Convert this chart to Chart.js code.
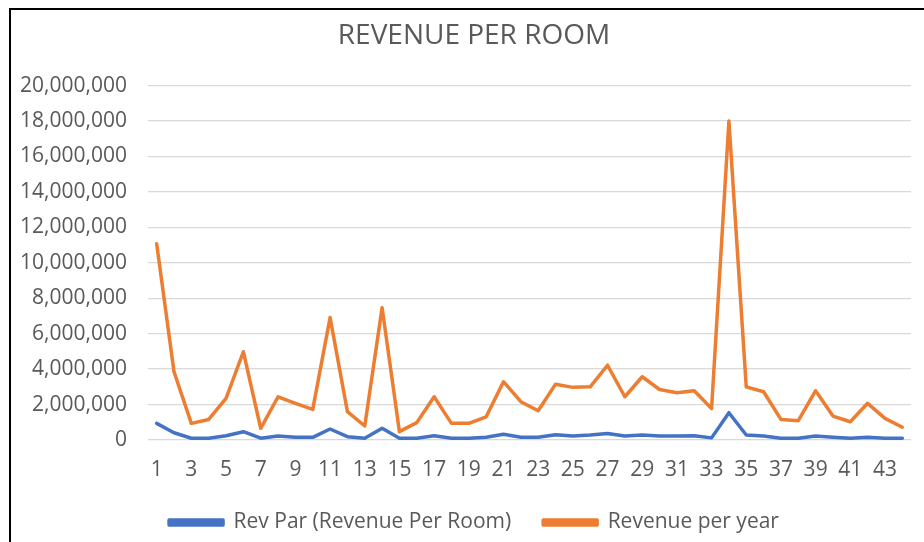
<!DOCTYPE html>
<html>
<head>
<meta charset="utf-8">
<title>Revenue Per Room</title>
<script src="https://cdn.jsdelivr.net/npm/chart.js@4/dist/chart.umd.min.js"></script>
<style>
  html, body { margin: 0; padding: 0; background: #fff; overflow: hidden; width: 924px; height: 542px; }
  .frame { position: absolute; left: 9px; top: 8px; width: 940px; height: 560px; border-top: 2px solid #000; border-left: 2px solid #000; }
  .wrap { position: absolute; left: 11px; top: 10px; width: 924px; height: 532px; }
</style>
</head>
<body>
<div class="frame"></div>
<div class="wrap"><canvas id="revChart"></canvas></div>
<script>
// ============================================================
// DATA
// ============================================================
const categories = ['1','2','3','4','5','6','7','8','9','10','11','12','13','14','15','16','17','18','19','20','21','22',
                    '23','24','25','26','27','28','29','30','31','32','33','34','35','36','37','38','39','40','41','42','43','44'];

const revPar = [940000, 410000, 100000, 100000, 240000, 470000, 100000, 220000, 150000, 150000, 620000, 190000, 100000, 660000,
                100000, 100000, 240000, 100000, 100000, 150000, 320000, 150000, 150000, 300000, 220000, 280000, 370000, 220000,
                280000, 220000, 220000, 240000, 120000, 1540000, 280000, 220000, 100000, 100000, 220000, 150000, 100000, 150000,
                100000, 100000];

const revenuePerYear = [11080000, 3850000, 940000, 1160000, 2350000, 4980000, 660000, 2440000, 2070000, 1730000, 6910000, 1600000,
                        790000, 7470000, 470000, 980000, 2440000, 940000, 940000, 1310000, 3290000, 2160000, 1650000, 3150000,
                        2970000, 3000000, 4220000, 2440000, 3570000, 2850000, 2670000, 2780000, 1780000, 18000000, 3000000,
                        2720000, 1160000, 1090000, 2780000, 1350000, 1030000, 2070000, 1220000, 720000];

const yTicks = [0, 2000000, 4000000, 6000000, 8000000, 10000000, 12000000, 14000000, 16000000, 18000000, 20000000];

// ============================================================
// CHART
// ============================================================
const textColor = '#595959';
const font = { family: "'Open Sans', sans-serif", size: 21 };

function fmt(n) { return Number(n).toLocaleString('en-US'); }

function lineSet(label, data, color) {
    return {
        label: label,
        data: data,
        borderColor: color,
        backgroundColor: color,
        borderWidth: 3.5,
        pointRadius: 0,
        tension: 0,
        borderJoinStyle: 'round',
        borderCapStyle: 'round'
    };
}

// tick labels get clipped to their axis box, so widen the boxes once layout is done
const unclipLabels = {
    id: 'unclipLabels',
    afterLayout(chart) {
        chart.scales.y.left = 0;
        chart.scales.x.bottom = chart.height;
    }
};

new Chart(document.getElementById('revChart'), {
    type: 'line',
    data: {
        labels: categories,
        datasets: [
            lineSet('Rev Par (Revenue Per Room)', revPar, '#4472C4'),
            lineSet('Revenue per year', revenuePerYear, '#ED7D31')
        ]
    },
    plugins: [unclipLabels],
    options: {
        responsive: true,
        maintainAspectRatio: false,
        animation: false,
        layout: { padding: { left: 26, right: 24, top: 0, bottom: 0 } },
        plugins: {
            title: {
                display: true,
                text: 'REVENUE PER ROOM',
                color: textColor,
                font: { family: font.family, size: 28, weight: 'normal' },
                padding: { top: 9, bottom: 33 }
            },
            legend: {
                position: 'bottom',
                maxHeight: 62,
                labels: { color: textColor, font: font, boxWidth: 54, boxHeight: 5, padding: 32 }
            },
            tooltip: { enabled: false }
        },
        scales: {
            x: {
                offset: true,
                afterFit: axis => { axis.height = 40; },
                grid: { display: false, drawTicks: false },
                border: { display: false },
                ticks: {
                    color: textColor, font: font, padding: 17,
                    autoSkip: false, maxRotation: 0,
                    callback: (v, i) => (i % 2 === 0 ? categories[i] : '')
                }
            },
            y: {
                min: 0,
                max: 20000000,
                afterBuildTicks: axis => { axis.ticks = yTicks.map(v => ({ value: v })); },
                afterFit: axis => { axis.width = 111; },
                grid: { color: '#D9D9D9', lineWidth: 1.3, drawTicks: false },
                border: { display: false },
                ticks: { color: textColor, font: font, padding: 21, callback: v => fmt(v) }
            }
        }
    }
});
</script>
</body>
</html>
